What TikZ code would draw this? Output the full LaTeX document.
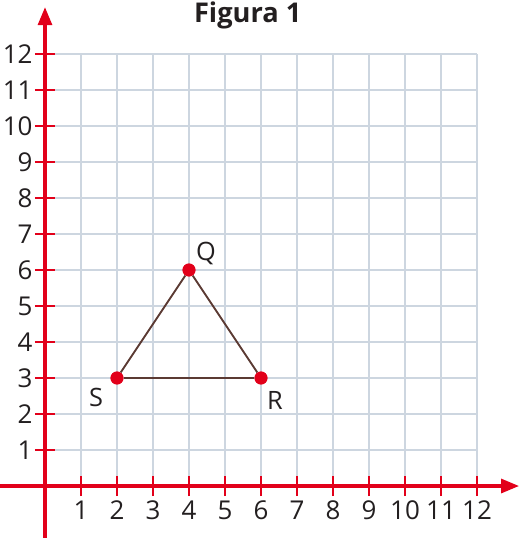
\documentclass[tikz,border=0pt]{standalone}
\usepackage{fontspec}
\setmainfont{Open Sans}
\usepackage{xcolor}
\usetikzlibrary{arrows.meta,positioning,calc}
\definecolor{figRed}{HTML}{E2001A}
\definecolor{figGrid}{HTML}{CDD6E0}
\definecolor{figEdge}{HTML}{5B3A33}
\definecolor{figInk}{HTML}{231F20}

\begin{document}
\begin{tikzpicture}[
  x=1cm, y=1cm,
  axis/.style={line width=2.4pt, draw=figRed, -{Triangle[length=0.5cm, width=0.39cm]}},
  tick/.style={line width=1.6pt, draw=figRed},
  gridline/.style={line width=1.4pt, draw=figGrid},
  num/.style={font=\fontsize{20.5}{20.5}\selectfont, text=figInk, inner sep=0pt},
  pt/.style={circle, fill=figRed, inner sep=0pt, minimum size=0.36cm},
  side/.style={line width=1.5pt, draw=figEdge},
  lbl/.style={font=\fontsize{20}{20}\selectfont, text=figInk, inner sep=0pt}
]
  \useasboundingbox (-1.25,-1.444) rectangle (13.167,13.5);
  % grid
  \foreach \i in {1,...,12} {
    \draw[gridline] (\i,0) -- (\i,12);
    \draw[gridline] (0,\i) -- (12,\i);
  }
  % axes
  \coordinate (xstart) at (-1.25,0);
  \coordinate (xend) at (13.167,0);
  \coordinate (ystart) at (0,-1.444);
  \coordinate (yend) at (0,13.3);
  \draw[axis] (xstart) -- (xend);
  \draw[axis] (ystart) -- (yend);
  \foreach \i in {1,...,12} {
    \draw[tick] (\i,-0.28) -- (\i,0.28);
    \draw[tick] (-0.28,\i) -- (0.28,\i);
    \node[num, anchor=center] (xl\i) at (\i,-0.67) {\i};
    \node[num, anchor=east] (yl\i) at (-0.34,\i) {\i};
  }
  % title
  \node[font=\bfseries\fontsize{21.5}{21.5}\selectfont, text=figInk, inner sep=0pt] (title) at (5.63,13.06) {Figura 1};
  % triangle
  \node[pt] (S) at (2,3) {};
  \node[pt] (Q) at (4,6) {};
  \node[pt] (R) at (6,3) {};
  \draw[side] (S) -- (Q);
  \draw[side] (Q) -- (R);
  \draw[side] (R) -- (S);
  \node[pt] at (S) {};
  \node[pt] at (Q) {};
  \node[pt] at (R) {};
  \node[lbl] (Slbl) at (1.42,2.47) {S};
  \node[lbl] (Qlbl) at (4.47,6.47) {Q};
  \node[lbl] (Rlbl) at (6.39,2.39) {R};
\end{tikzpicture}
\end{document}
